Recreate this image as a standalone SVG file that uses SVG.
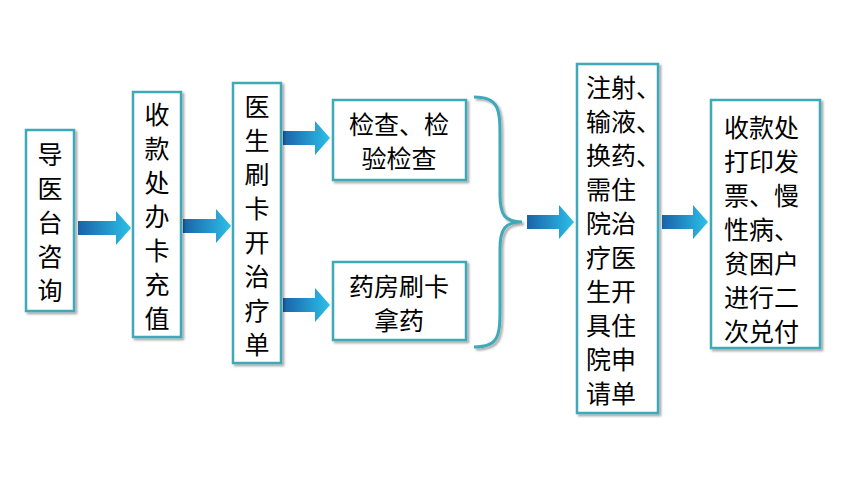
<svg xmlns="http://www.w3.org/2000/svg" width="842" height="498" viewBox="0 0 842 498">
<defs>
<linearGradient id="ag" x1="0" y1="0" x2="1" y2="0"><stop offset="0" stop-color="#1a62a8"/><stop offset="1" stop-color="#2cc0e8"/></linearGradient>
<filter id="sh" x="-10%" y="-10%" width="130%" height="130%"><feDropShadow dx="2" dy="2" stdDeviation="1" flood-color="#000" flood-opacity="0.35"/></filter>
</defs>
<style>
.box{fill:#fff;stroke:#3fa9b8;stroke-width:2.5;filter:url(#sh)}
text{font-family:"Noto Sans CJK SC",sans-serif;font-size:25px;fill:#000}
.c{text-anchor:middle}
</style>
<rect width="842" height="498" fill="#fff"/>
<g id="connectors" fill="url(#ag)">
<path d="M78,221h38v-10l15,17l-15,17v-10h-38z"/>
<path d="M183,219h33v-10l15,17l-15,17v-10h-33z"/>
<path d="M283,131h32v-10l15,17l-15,17v-10h-32z"/>
<path d="M283,298h32v-10l15,17l-15,17v-10h-32z"/>
<path d="M527,215h32v-10l15,17l-15,17v-10h-32z"/>
<path d="M662,215h31v-10l15,17l-15,17v-10h-31z"/>
<path d="M474,97 C500,97 500,110 500,140 L500,195 C500,215 505,222 522,222 C505,222 500,229 500,249 L500,305 C500,335 500,347 474,347" fill="none" stroke="#3fa9b8" stroke-width="3" filter="url(#sh)"/>
</g>
<g id="n1"><rect class="box" x="26" y="130" width="48" height="181"/>
<text class="c" x="50" y="164">导</text><text class="c" x="50" y="198">医</text><text class="c" x="50" y="232">台</text><text class="c" x="50" y="266">咨</text><text class="c" x="50" y="300">询</text></g>
<g id="n2"><rect class="box" x="133" y="92" width="48" height="245"/>
<text class="c" x="157" y="124">收</text><text class="c" x="157" y="158">款</text><text class="c" x="157" y="192">处</text><text class="c" x="157" y="226">办</text><text class="c" x="157" y="260">卡</text><text class="c" x="157" y="294">充</text><text class="c" x="157" y="328">值</text></g>
<g id="n3"><rect class="box" x="233" y="83" width="48" height="280"/>
<text class="c" x="257" y="116">医</text><text class="c" x="257" y="150">生</text><text class="c" x="257" y="184">刷</text><text class="c" x="257" y="218">卡</text><text class="c" x="257" y="252">开</text><text class="c" x="257" y="286">治</text><text class="c" x="257" y="320">疗</text><text class="c" x="257" y="354">单</text></g>
<g id="n4"><rect class="box" x="333" y="100" width="133" height="80"/>
<text class="c" x="399" y="134">检查、检</text><text class="c" x="399" y="168">验检查</text></g>
<g id="n5"><rect class="box" x="333" y="262" width="133" height="78"/>
<text class="c" x="399" y="296">药房刷卡</text><text class="c" x="399" y="330">拿药</text></g>
<g id="n6"><rect class="box" x="577" y="64" width="81" height="349"/>
<g><text x="586" y="97">注射、</text><text x="586" y="131">输液、</text><text x="586" y="165">换药、</text><text x="586" y="199">需住</text><text x="586" y="233">院治</text><text x="586" y="267">疗医</text><text x="586" y="301">生开</text><text x="586" y="335">具住</text><text x="586" y="369">院申</text><text x="586" y="403">请单</text></g></g>
<g id="n7"><rect class="box" x="711" y="100" width="109" height="248"/>
<g><text x="724" y="137">收款处</text><text x="724" y="171">打印发</text><text x="724" y="205">票、慢</text><text x="724" y="239">性病、</text><text x="724" y="273">贫困户</text><text x="724" y="307">进行二</text><text x="724" y="341">次兑付</text></g></g>
</svg>
